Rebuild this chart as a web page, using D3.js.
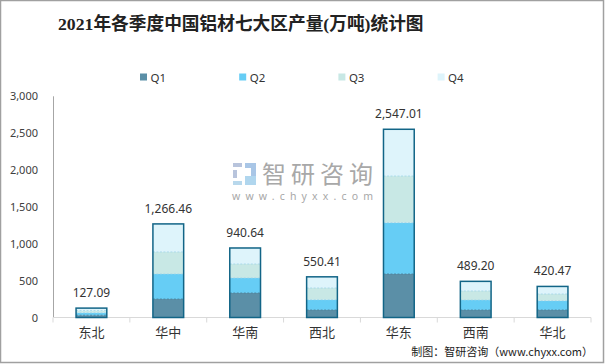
<!DOCTYPE html>
<html><head><meta charset="utf-8">
<script src="https://cdn.jsdelivr.net/npm/d3@7"></script>
<style>body{margin:0;background:#fff}svg{display:block}</style>
</head><body>
<script>
const categories = ["东北","华中","华南","西北","华东","西南","华北"];
const seriesNames = ["Q1","Q2","Q3","Q4"];
const q1 = [31, 250, 332, 102, 589, 102, 102];
const q2 = [33, 339, 203, 139, 694, 135, 125];
const q3 = [31, 298, 189, 158, 631, 122, 91];
const q4 = [32.09, 379.46, 216.64, 151.41, 633.01, 130.2, 102.47];
const totals = [127.09, 1266.46, 940.64, 550.41, 2547.01, 489.20, 420.47];
const yTicks = [0, 500, 1000, 1500, 2000, 2500, 3000];
const colors = ["#5b8fa7", "#66cdf5", "#c8e8e5", "#def4fb"];

const W = 605, H = 364;
const svg = d3.select("body").append("svg").attr("width", W).attr("height", H);
svg.append("rect").attr("x",0.5).attr("y",0.5).attr("width",603).attr("height",362)
  .attr("fill","#fff").attr("stroke","#a0a0a0").attr("stroke-width",1.5);

// title
svg.append("text").attr("x",58).attr("y",30)
  .attr("font-family","'Liberation Serif','Noto Sans CJK SC',serif").attr("font-weight","bold")
  .attr("font-size",17.7).attr("fill","#222").text("2021年各季度中国铝材七大区产量(万吨)统计图");

// legend
const lg = svg.append("g");
seriesNames.forEach((s,i)=>{
  const x = 140 + i*99.2;
  lg.append("rect").attr("x",x).attr("y",73.5).attr("width",7).attr("height",7).attr("fill",colors[i]);
  lg.append("text").attr("x",x+10.5).attr("y",81.5).attr("font-family","'Noto Sans',sans-serif")
    .attr("font-size",11.5).attr("fill","#333").text(s);
});

const x = d3.scaleBand().domain(categories).range([53, 591]).paddingInner(0.6).paddingOuter(0.3);
const xb = d3.scaleBand().domain(categories).range([53, 591]);
const y = d3.scaleLinear().domain([0,3000]).range([317.5, 95.8]);

// watermark
const wm = svg.append("g");
wm.append("rect").attr("x",233).attr("y",163).attr("width",9).attr("height",4).attr("fill","#b8c4dc");
wm.append("rect").attr("x",233).attr("y",170).attr("width",4).attr("height",8).attr("fill","#b8c4dc");
wm.append("rect").attr("x",233).attr("y",181).attr("width",9).attr("height",4).attr("fill","#b8d8ec");
wm.append("rect").attr("x",245).attr("y",163).attr("width",11).attr("height",5).attr("fill","#a9c6e6");
wm.append("rect").attr("x",251).attr("y",168).attr("width",5).attr("height",8).attr("fill","#a9c6e6");
wm.append("rect").attr("x",245).attr("y",176).attr("width",11).attr("height",9).attr("fill","#b0d6ee");
wm.append("text").attr("x",262).attr("y",183).attr("font-family","'Noto Sans CJK SC',sans-serif")
  .attr("font-size",24).attr("fill","#a8a8a8").attr("textLength",111).text("智研咨询");
wm.append("text").attr("x",232).attr("y",200).attr("font-family","'Noto Sans',sans-serif")
  .attr("font-size",10.5).attr("fill","#a8a8a8").attr("textLength",141).attr("lengthAdjust","spacing").text("www.chyxx.com");

// axes
const yAxis = d3.axisLeft(y).tickValues(yTicks).tickSize(0).tickPadding(15).tickFormat(d3.format(","));
const ya = svg.append("g").attr("transform","translate(53,0)").call(yAxis);
ya.select(".domain").attr("stroke","#a6a6a6");
ya.selectAll("text").attr("font-family","'Noto Sans',sans-serif").attr("font-size",11).attr("fill","#404040");

const xAxis = d3.axisBottom(x).tickSize(0).tickPadding(10);
const xa = svg.append("g").attr("transform","translate(0,317.5)").call(xAxis);
xa.select(".domain").remove();
xa.selectAll("text").attr("font-family","'Noto Sans CJK SC',sans-serif").attr("font-size",13).attr("fill","#333");
svg.append("line").attr("x1",53).attr("x2",591).attr("y1",317.5).attr("y2",317.5).attr("stroke","#d9d9d9");
const edges = categories.map(c=>xb(c)).concat([591]);
svg.selectAll(".xt").data(edges).join("line").attr("x1",d=>d).attr("x2",d=>d)
  .attr("y1",317.5).attr("y2",322.5).attr("stroke","#d9d9d9");

// stacked bars
const rows = categories.map((c,i)=>({cat:c, Q1:q1[i], Q2:q2[i], Q3:q3[i], Q4:q4[i]}));
const stacked = d3.stack().keys(seriesNames)(rows);
stacked.forEach((layer,li)=>{
  svg.append("g").selectAll("rect").data(layer).join("rect")
    .attr("x",d=>x(d.data.cat)).attr("width",x.bandwidth())
    .attr("y",d=>y(d[1])).attr("height",d=>y(d[0])-y(d[1]))
    .attr("fill",colors[li]);
  if (li>0) {
    svg.append("g").selectAll("line").data(layer).join("line")
      .attr("x1",d=>x(d.data.cat)).attr("x2",d=>x(d.data.cat)+x.bandwidth())
      .attr("y1",d=>y(d[0])).attr("y2",d=>y(d[0]))
      .attr("stroke", li===1 ? "#4a7f98" : "#9fd4e8").attr("stroke-width",0.8).attr("stroke-dasharray","2,1.5");
  }
});
svg.append("g").selectAll("rect").data(categories).join("rect")
  .attr("x",d=>x(d)).attr("width",x.bandwidth())
  .attr("y",(d,i)=>y(totals[i])).attr("height",(d,i)=>y(0)-y(totals[i]))
  .attr("fill","none").attr("stroke","#126587").attr("stroke-width",1.5);

svg.append("g").selectAll("text").data(categories).join("text")
  .attr("x",d=>x(d)+x.bandwidth()/2).attr("y",(d,i)=>y(totals[i])-11)
  .attr("text-anchor","middle").attr("font-family","'Noto Sans',sans-serif").attr("font-size",12)
  .attr("fill","#333").text((d,i)=>d3.format(",.2f")(totals[i]));

// source
svg.append("text").attr("x",593).attr("y",356).attr("text-anchor","end").attr("font-family","'Noto Sans CJK SC',sans-serif")
  .attr("font-size",11).attr("fill","#222")
  .text("制图：智研咨询（www.chyxx.com）");
</script>
</body></html>
